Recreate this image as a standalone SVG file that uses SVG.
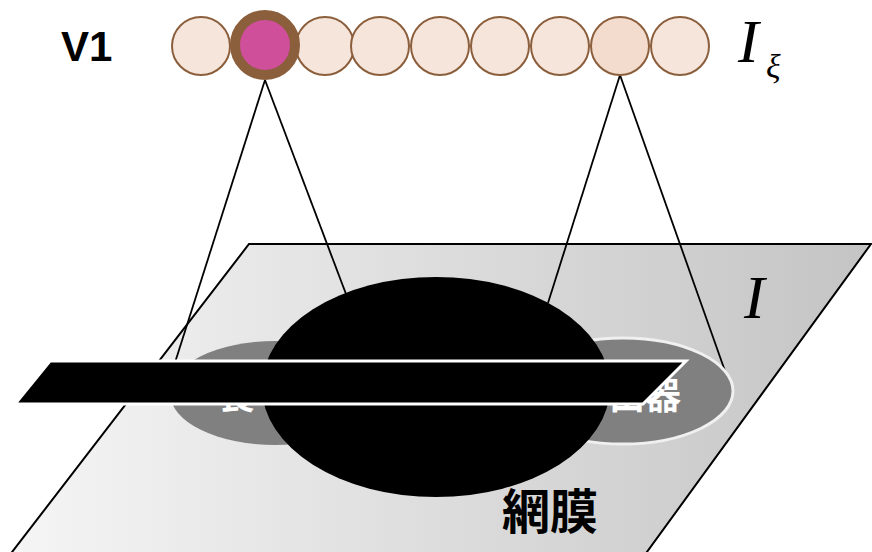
<svg xmlns="http://www.w3.org/2000/svg" width="872" height="552" viewBox="0 0 872 552">
  <defs>
    <linearGradient id="planeFill" x1="12" y1="0" x2="872" y2="0" gradientUnits="userSpaceOnUse">
      <stop offset="0" stop-color="#f5f5f5"/>
      <stop offset="1" stop-color="#c4c4c4"/>
    </linearGradient>
    <style>
      .unit { fill: #f6e5db; stroke: #8b5e3c; stroke-width: 2; }
      .conn { stroke: #000; stroke-width: 1.8; fill: none; }
      .field { fill: #808080; }
      .cjk-w { font-family: "Noto Sans CJK JP", "Noto Sans CJK SC", sans-serif; font-weight: bold; fill: #fff; font-size: 36px; }
      .math { font-family: "Liberation Serif", serif; font-style: italic; fill: #000; }
    </style>
  </defs>

  <!-- retina plane -->
  <g id="retina-plane">
    <polygon points="249,244 871,244 644,556 9,556" fill="url(#planeFill)" stroke="#000" stroke-width="2"/>
  </g>

  <!-- connections from V1 units down to the retina -->
  <g id="connectors">
    <line class="conn" x1="265" y1="80" x2="172" y2="372"/>
    <line class="conn" x1="265" y1="80" x2="346" y2="294"/>
    <line class="conn" x1="620" y1="75" x2="548" y2="303"/>
    <line class="conn" x1="620" y1="75" x2="725" y2="371"/>
  </g>

  <!-- receptive field regions -->
  <g id="field-left">
    <ellipse class="field" cx="275" cy="393" rx="105" ry="52"/>
    <text class="cjk-w" x="219" y="409">食</text>
  </g>
  <g id="field-right">
    <ellipse class="field" cx="623" cy="391" rx="110" ry="53" stroke="#f0f0f0" stroke-width="3"/>
    <text class="cjk-w" x="681" y="409" text-anchor="end">出器</text>
  </g>

  <g id="center-mask">
    <ellipse cx="436" cy="387" rx="174" ry="110" fill="#000"/>
  </g>

  <g id="bar">
    <polygon points="50,361 686,361 643,404 15,404" fill="#000" stroke="#fff" stroke-width="3" stroke-linejoin="miter"/>
  </g>

  <g id="retina-label">
    <text x="502" y="529" font-family="Noto Sans CJK JP, Noto Sans CJK SC, sans-serif" font-weight="bold" font-size="48" fill="#000">網膜</text>
  </g>

  <g id="plane-label">
    <text class="math" x="744" y="318" font-size="62">I</text>
  </g>

  <!-- V1 unit row -->
  <g id="v1-units">
    <circle class="unit" cx="201" cy="46" r="29"/>
    <circle class="unit" cx="325" cy="46" r="29"/>
    <circle class="unit" cx="380" cy="46" r="29"/>
    <circle class="unit" cx="440" cy="46" r="29"/>
    <circle class="unit" cx="500" cy="46" r="29"/>
    <circle class="unit" cx="560" cy="46" r="29"/>
    <circle class="unit" cx="620" cy="46" r="29" style="fill:#f3dccd"/>
    <circle class="unit" cx="680" cy="46" r="29"/>
  </g>
  <g id="v1-active">
    <circle cx="265" cy="45" r="30" fill="#cf4f9a" stroke="#8b5e3c" stroke-width="10"/>
  </g>

  <g id="v1-label">
    <text x="61" y="61" font-family="Liberation Sans, Arial, sans-serif" font-weight="bold" font-size="42" fill="#000">V1</text>
  </g>
  <g id="v1-math-label">
    <text class="math" x="738" y="62" font-size="62">I</text>
    <text class="math" x="766" y="78" font-size="34">ξ</text>
  </g>
</svg>
